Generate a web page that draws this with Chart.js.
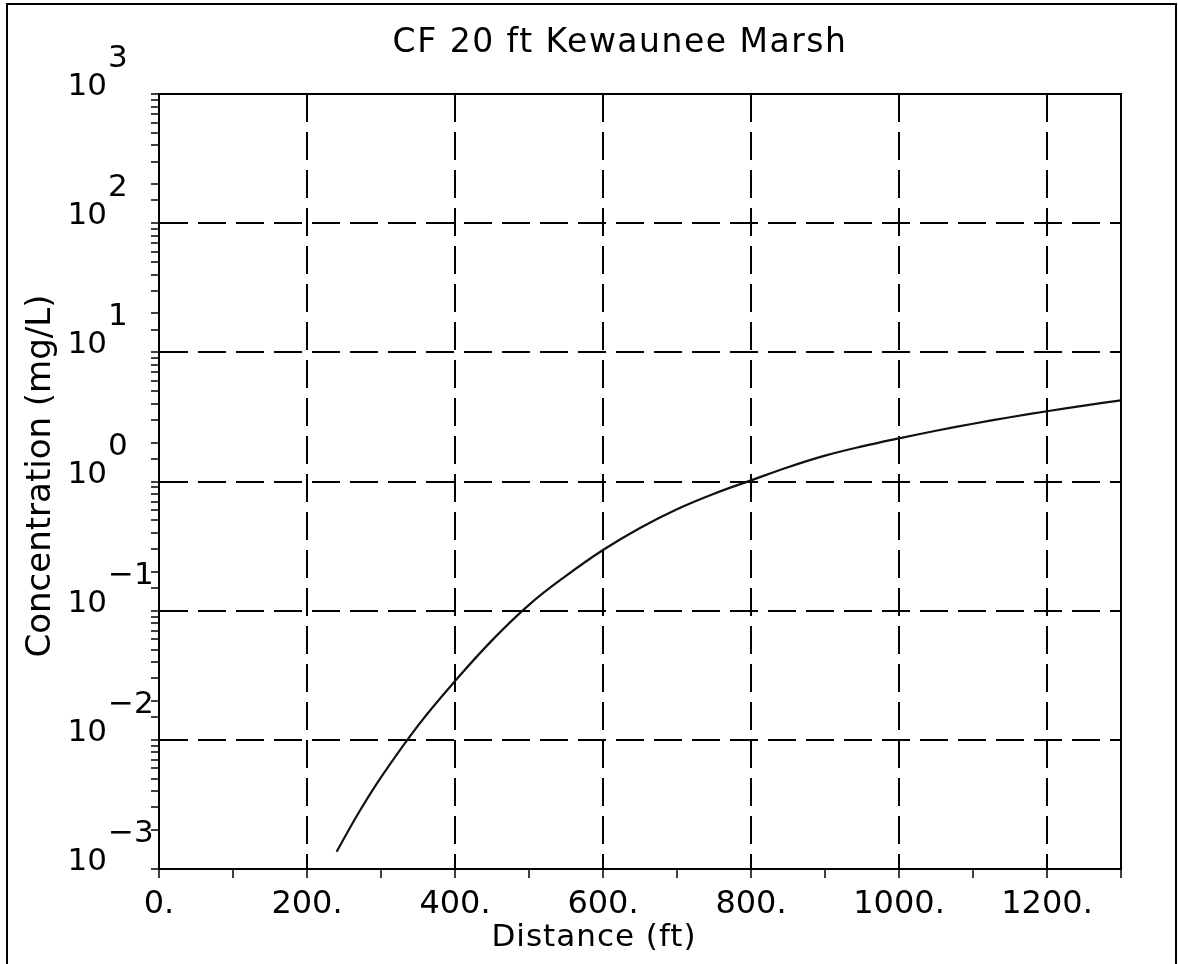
<!DOCTYPE html>
<html>
<head>
<meta charset="utf-8">
<script src="https://cdn.jsdelivr.net/npm/chart.js@4"></script>
<style>
  html, body { margin: 0; padding: 0; background: #fff; }
  canvas { display: block; }
</style>
</head>
<body>
<canvas id="cfChart" width="1178" height="964"></canvas>
<script>
// values
const distance = [240, 270, 300, 350, 400, 450, 500, 550, 600, 650, 700, 750, 800, 850, 900, 950, 1000, 1050, 1100, 1150, 1200, 1250, 1300];
const concentration = [0.00136, 0.00274, 0.00513, 0.0129, 0.0285, 0.0589, 0.111, 0.186, 0.295, 0.437, 0.610, 0.804, 1.02, 1.29, 1.585, 1.87, 2.16, 2.47, 2.80, 3.145, 3.50, 3.87, 4.25];
const yDecades = [-3, -2, -1, 0, 1, 2, 3];
const xMin = 0, xMax = 1300, xStep = 100, xLabelStep = 200;

const titleText = 'CF 20 ft Kewaunee Marsh';
const xTitleText = 'Distance (ft)';
const yTitleText = 'Concentration (mg/L)';

const FONT = '"DejaVu Sans", sans-serif';

function isDecade(v) {
    const l = Math.log10(v);
    return Math.abs(l - Math.round(l)) < 1e-9;
}

const textPlugin = {
    id: 'textPlugin',
    beforeDraw(chart) {
        const ctx = chart.ctx;
        ctx.save();
        ctx.fillStyle = '#fff';
        ctx.fillRect(0, 0, chart.width, chart.height);
        // page frame
        ctx.strokeStyle = '#000';
        ctx.lineWidth = 2;
        ctx.beginPath();
        ctx.moveTo(7, 964);
        ctx.lineTo(7, 4);
        ctx.lineTo(1176, 4);
        ctx.lineTo(1176, 964);
        ctx.stroke();
        ctx.restore();
    },
    afterDraw(chart) {
        const ctx = chart.ctx;
        const a = chart.chartArea;
        const y = chart.scales.y;
        ctx.save();
        // top and right edges of plot box
        ctx.strokeStyle = '#000';
        ctx.lineWidth = 2;
        ctx.beginPath();
        ctx.moveTo(a.left, a.top);
        ctx.lineTo(a.right, a.top);
        ctx.lineTo(a.right, a.bottom);
        ctx.stroke();

        ctx.fillStyle = '#000';
        ctx.textBaseline = 'alphabetic';

        // title
        ctx.font = '33px ' + FONT;
        ctx.letterSpacing = '1.5px';
        ctx.textAlign = 'center';
        ctx.fillText(titleText, 620, 52);

        // x title
        ctx.font = '31px ' + FONT;
        ctx.letterSpacing = '1px';
        ctx.fillText(xTitleText, 594, 946);

        // y title
        ctx.save();
        ctx.font = '34px ' + FONT;
        ctx.letterSpacing = '0px';
        ctx.translate(50, 476);
        ctx.rotate(-Math.PI / 2);
        ctx.fillText(yTitleText, 0, 0);
        ctx.restore();

        // y tick labels 10^n
        ctx.letterSpacing = '0px';
        ctx.font = '31px ' + FONT;
        yDecades.forEach(e => {
            const py = y.getPixelForValue(Math.pow(10, e));
            ctx.textAlign = 'right';
            ctx.fillText('10', 107, py + 1);
            ctx.textAlign = 'left';
            ctx.fillText(e < 0 ? '\u2212' + (-e) : String(e), 108, py - 27);
        });
        ctx.restore();
    }
};

const ctx = document.getElementById('cfChart').getContext('2d');

const cfChart = new Chart(ctx, {
    type: 'line',
    data: {
        datasets: [{
            label: 'CF 20 ft',
            data: distance.map((d, i) => ({x: d, y: concentration[i]})),
            borderColor: '#111',
            borderWidth: 2.2,
            pointRadius: 0,
            fill: false,
            tension: 0.4
        }]
    },
    options: {
        responsive: false,
        animation: false,
        layout: {
            padding: {left: 0, top: 94, right: 57, bottom: 0}
        },
        plugins: {
            legend: {display: false},
            title: {display: false},
            tooltip: {enabled: false}
        },
        scales: {
            x: {
                type: 'linear',
                min: xMin,
                max: xMax,
                afterFit: function(scale) { scale.height = 95; },
                ticks: {
                    stepSize: xStep,
                    autoSkip: false,
                    maxRotation: 0,
                    color: '#000',
                    padding: 7,
                    font: {family: FONT, size: 32},
                    callback: function(value) {
                        return value % xLabelStep === 0 ? value + '.' : '';
                    }
                },
                grid: {
                    color: function(c) {
                        const v = c.tick ? c.tick.value : null;
                        return (v !== null && v % xLabelStep === 0 && v > xMin && v < xMax) ? '#000' : 'rgba(0,0,0,0)';
                    },
                    lineWidth: 2,
                    tickColor: '#000',
                    tickWidth: 1.5,
                    tickLength: 9,
                    tickBorderDash: []
                },
                border: {display: true, color: '#000', width: 2, dash: [28, 10]}
            },
            y: {
                type: 'logarithmic',
                min: 0.001,
                max: 1000,
                afterFit: function(scale) { scale.width = 159; },
                ticks: {
                    autoSkip: false,
                    callback: function() { return ''; }
                },
                grid: {
                    color: function(c) {
                        const v = c.tick ? c.tick.value : null;
                        return (v !== null && isDecade(v) && v > 0.0011 && v < 999) ? '#000' : 'rgba(0,0,0,0)';
                    },
                    lineWidth: 2,
                    tickColor: '#000',
                    tickWidth: 1.5,
                    tickLength: 8,
                    tickBorderDash: []
                },
                border: {display: true, color: '#000', width: 2, dash: [28, 10]}
            }
        }
    },
    plugins: [textPlugin]
});
</script>
</body>
</html>
